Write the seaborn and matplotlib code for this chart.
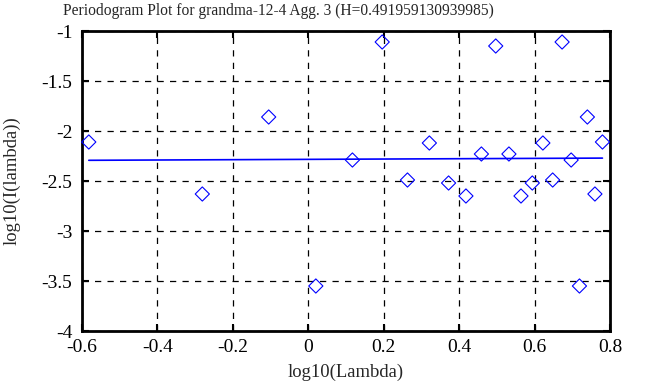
import matplotlib
matplotlib.use("Agg")
import matplotlib.pyplot as plt
import seaborn as sns
import pandas as pd

# periodogram points (log10 frequency, log10 power)
log_lambda = [-0.582, -0.281, -0.105, 0.020, 0.117, 0.196, 0.263, 0.321,
              0.372, 0.418, 0.459, 0.497, 0.532, 0.564, 0.594, 0.622,
              0.648, 0.673, 0.697, 0.719, 0.740, 0.760, 0.780]
log_power = [-2.11, -2.63, -1.86, -3.55, -2.29, -1.11, -2.49, -2.12,
             -2.52, -2.65, -2.23, -1.15, -2.23, -2.65, -2.52, -2.12,
             -2.49, -1.11, -2.29, -3.55, -1.86, -2.63, -2.11]

# least-squares fit line end points
fit_x = [-0.582, 0.780]
fit_y = [-2.293, -2.271]

x_ticks = [-0.6, -0.4, -0.2, 0, 0.2, 0.4, 0.6, 0.8]
x_tick_labels = ["-0.6", "-0.4", "-0.2", "0", "0.2", "0.4", "0.6", "0.8"]
y_ticks = [-4, -3.5, -3, -2.5, -2, -1.5, -1]
y_tick_labels = ["-4", "-3.5", "-3", "-2.5", "-2", "-1.5", "-1"]

title = "Periodogram Plot for grandma-12-4 Agg. 3 (H=0.491959130939985)"

sns.set_style("ticks")
plt.rcParams["font.family"] = ["Liberation Serif", "DejaVu Serif"]

df = pd.DataFrame({"x": log_lambda, "y": log_power})
fit = pd.DataFrame({"x": fit_x, "y": fit_y})

fig = plt.figure(figsize=(6.63, 3.87), dpi=100)
ax = fig.add_axes([82 / 663, 1 - 331 / 387, 528 / 663, 300 / 387])

ax.grid(True, color="black", linestyle=(0, (5, 5)), linewidth=0.9)
ax.set_axisbelow(True)

sns.lineplot(data=fit, x="x", y="y", color="blue", linewidth=1.2, ax=ax)
sns.scatterplot(data=df, x="x", y="y", marker="D", s=52, color="blue",
                facecolor="none", edgecolor="blue", linewidth=0.8, ax=ax,
                zorder=3, clip_on=False)

ax.set_xlim(-0.6, 0.8)
ax.set_ylim(-4, -1)
ax.set_xticks(x_ticks)
ax.set_xticklabels(x_tick_labels)
ax.set_yticks(y_ticks)
ax.set_yticklabels(y_tick_labels)
ax.tick_params(direction="in", length=5, width=1.5, labelsize=14,
               top=True, right=True, colors="black")
ax.tick_params(axis="y", pad=7)
ax.tick_params(axis="x", pad=6)
for s in ax.spines.values():
    s.set_linewidth(2)
    s.set_color("black")

ax.set_xlabel("log10(Lambda)", fontsize=13.4, labelpad=5)
ax.set_ylabel("log10(I(lambda))", fontsize=13.4, labelpad=15)
fig.text(278 / 663, 1 - 11 / 387, title, fontsize=11.2, ha="center", va="center")

fig.savefig("out.png", dpi=100)
